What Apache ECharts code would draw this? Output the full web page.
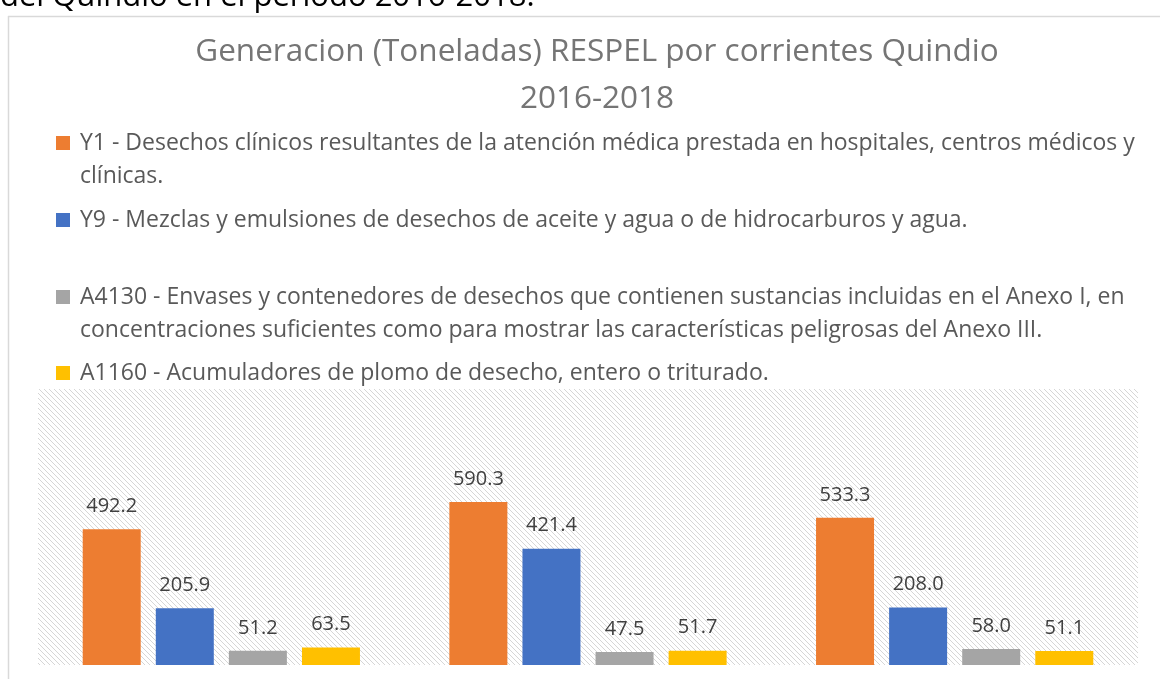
<!DOCTYPE html>
<html>
<head>
<meta charset="utf-8">
<title>Generacion RESPEL Quindio</title>
<script src="https://cdn.jsdelivr.net/npm/echarts@6/dist/echarts.min.js"></script>
<style>
	html, body { margin: 0; padding: 0; background: #fff; }
	#chart { width: 1160px; height: 679px; }
</style>
</head>
<body>
<div id="chart"></div>
<script>
var years = ['2016', '2017', '2018'];
var names = [
	'Y1 - Desechos clínicos resultantes de la atención médica prestada en hospitales, centros médicos y clínicas.',
	'Y9 - Mezclas y emulsiones de desechos de aceite y agua o de hidrocarburos y agua.',
	'A4130 - Envases y contenedores de desechos que contienen sustancias incluidas en el Anexo I, en concentraciones suficientes como para mostrar las características peligrosas del Anexo III.',
	'A1160 - Acumuladores de plomo de desecho, entero o triturado.'
];
// legend text wraps after these words
var wrapAfter = ['centros médicos y', null, 'Anexo I, en', null];
var y1 = [492.2, 590.3, 533.3];
var y9 = [205.9, 421.4, 208.0];
var a4130 = [51.2, 47.5, 58.0];
var a1160 = [63.5, 51.7, 51.1];
var colors = ['#ED7D31', '#4472C4', '#A5A5A5', '#FFC000'];

/* hatch pattern for the plot area */
var tile = document.createElement('canvas');
tile.width = 5;
tile.height = 5;
var tctx = tile.getContext('2d');
tctx.fillStyle = '#fff';
tctx.fillRect(0, 0, 5, 5);
tctx.fillStyle = '#d6d6d6';
for (var i = 0; i < 5; i++) {
	tctx.fillRect(i, i, 1, 1);
}

var chart = echarts.init(document.getElementById('chart'));

function wrapName(name, i) {
	var w = wrapAfter[i];
	if (!w) return name;
	var b = name.indexOf(w) + w.length;
	return name.slice(0, b) + '\n' + name.slice(b + 1);
}

// square icon with an empty tail so it sits on the first text line
var tallIcon = 'path://M0,0h14v14h-14z M0,47h14';
var legendTops = [121.5, 198.5, 275.5, 351.5];
var legends = names.map(function(n, i) {
	var twoLines = wrapAfter[i] != null;
	return {
		left: 51,
		top: legendTops[i],
		orient: 'vertical',
		data: [n],
		icon: twoLines ? tallIcon : 'rect',
		itemWidth: 14,
		itemHeight: twoLines ? 47 : 14,
		selectedMode: false,
		formatter: function(name) { return wrapName(name, i); },
		textStyle: {
			fontFamily: 'Open Sans',
			fontSize: 23,
			lineHeight: 33,
			color: '#595959',
			padding: [0, 0, 0, 5]
		}
	};
});

var seriesData = [y1, y9, a4130, a1160];
var series = names.map(function(n, i) {
	return {
		name: n,
		type: 'bar',
		data: seriesData[i],
		barWidth: 58,
		barGap: '26%',
		itemStyle: { color: colors[i] },
		label: {
			show: true,
			position: 'top',
			distance: 13,
			fontFamily: 'Open Sans',
			fontSize: 20,
			color: '#404040',
			formatter: function(p) { return p.value.toFixed(1); }
		}
	};
});

var option = {
	animation: false,
	title: {
		text: 'Generacion (Toneladas) RESPEL por corrientes Quindio\n2016-2018',
		left: 592,
		top: 23.5,
		textAlign: 'center',
		textStyle: {
			fontFamily: 'Open Sans',
			fontSize: 31.5,
			fontWeight: 'normal',
			lineHeight: 47,
			color: '#757575'
		}
	},
	legend: legends,
	graphic: [
		{
			type: 'text',
			left: 0,
			top: -18,
			style: {
				text: 'del Quindío en el periodo 2016-2018.',
				font: '31px "Open Sans"',
				fill: '#000'
			}
		},
		{
			type: 'line',
			shape: { x1: 8, y1: 16.5, x2: 1160, y2: 16.5 },
			style: { stroke: '#d9d9d9', lineWidth: 1.5 }
		},
		{
			type: 'line',
			shape: { x1: 8.5, y1: 16, x2: 8.5, y2: 679 },
			style: { stroke: '#d9d9d9', lineWidth: 1.5 }
		}
	],
	grid: {
		left: 38,
		right: 22,
		top: 389,
		bottom: 14,
		show: true,
		borderWidth: 0,
		backgroundColor: { image: tile, repeat: 'repeat' }
	},
	xAxis: {
		type: 'category',
		data: years,
		axisLine: { show: false },
		axisTick: { show: false },
		axisLabel: { show: false }
	},
	yAxis: {
		type: 'value',
		min: 0,
		max: 1000,
		show: false,
		splitLine: { show: false }
	},
	series: series
};
chart.setOption(option);
</script>
</body>
</html>
